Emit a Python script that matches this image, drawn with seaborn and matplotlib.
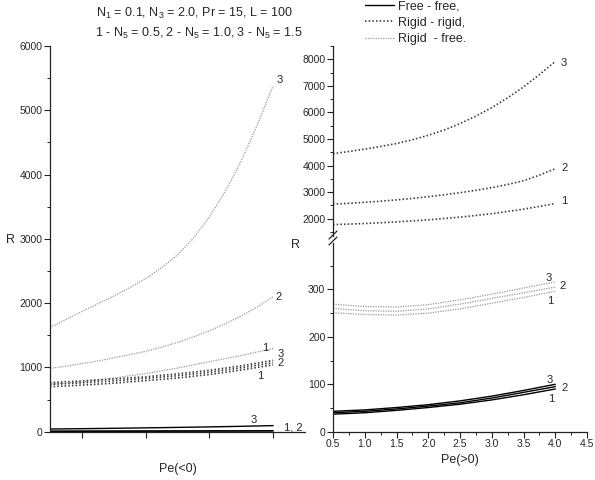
import pandas as pd
import seaborn as sns
import matplotlib
matplotlib.use("Agg")
import matplotlib.pyplot as plt
from matplotlib.lines import Line2D
from matplotlib.ticker import MultipleLocator

# valeurs (|Pe| = 0.5 ... 4.0)
pe = [0.5, 1.0, 1.5, 2.0, 2.5, 3.0, 3.5, 4.0]
pe_fin = [0.5, 0.75, 1.0, 1.25, 1.5, 1.75, 2.0, 2.25, 2.5, 2.75, 3.0, 3.25, 3.5, 3.75, 4.0]

# Pe < 0
neg_ff1 = [5, 6, 7, 8, 9, 10, 11, 12]
neg_ff2 = [8, 9, 10, 11, 12, 13, 14, 16]
neg_ff3 = [42, 47, 53, 60, 67, 75, 84, 95]
neg_rr1 = [700, 725, 755, 795, 835, 890, 960, 1040]
neg_rr2 = [735, 760, 790, 830, 870, 925, 995, 1075]
neg_rr3 = [765, 790, 820, 855, 900, 955, 1025, 1110]
neg_rf1 = [740, 775, 835, 905, 990, 1090, 1185, 1295]
neg_rf2 = [985, 1020, 1060, 1100, 1150, 1200, 1250, 1315, 1390, 1475, 1570, 1680, 1800, 1940, 2100]
neg_rf3 = [1620, 1745, 1870, 1990, 2110, 2240, 2380, 2550, 2750, 3010, 3340, 3740, 4210, 4770, 5380]

# Pe > 0
pos_ff1 = [37, 40, 45, 51, 58, 67, 78, 90]
pos_ff2 = [40, 43, 48, 54, 61, 71, 83, 95]
pos_ff3 = [43, 46, 51, 57, 65, 75, 87, 100]
pos_rf1 = [251, 247, 246, 250, 259, 271, 283, 296]
pos_rf2 = [260, 255, 254, 259, 269, 281, 293, 305]
pos_rf3 = [269, 264, 263, 268, 278, 290, 303, 316]
pos_rr1 = [1780, 1820, 1880, 1960, 2060, 2190, 2360, 2570]
pos_rr2 = [2550, 2580, 2620, 2660, 2710, 2765, 2830, 2900, 2980, 3070, 3170, 3290, 3430, 3640, 3880]
pos_rr3 = [4450, 4530, 4620, 4720, 4830, 4970, 5140, 5340, 5580, 5860, 6180, 6550, 6960, 7420, 7920]

sns.set_theme(style="ticks")
plt.rcParams["font.family"] = ["Liberation Sans", "DejaVu Sans"]
plt.rcParams["mathtext.fontset"] = "custom"
plt.rcParams["mathtext.rm"] = "Liberation Sans"

styles = {
    "ff": dict(color="black", linestyle="-", linewidth=1.0),
    "rr": dict(color="#3a3a3a", linestyle=(0, (0.9, 1.3)), linewidth=1.2),
    "rf": dict(color="#9a9a9a", linestyle=(0, (1, 1)), linewidth=0.9),
}

fig = plt.figure(figsize=(5.95, 4.8), dpi=100)
ax_l = fig.add_axes([0.084, 0.1006, 0.4286, 0.8035])
ax_lo = fig.add_axes([0.5597, 0.1006, 0.4269, 0.3932])
ax_up = fig.add_axes([0.5597, 0.5083, 0.4269, 0.3959])


def trace(ax, y, kind):
    x = pe_fin if len(y) == len(pe_fin) else pe
    df = pd.DataFrame({"Pe": x, "R": y})
    sns.lineplot(data=df, x="Pe", y="R", ax=ax, **styles[kind])


for y, k in [(neg_ff1, "ff"), (neg_ff2, "ff"), (neg_ff3, "ff"),
             (neg_rf1, "rf"), (neg_rf2, "rf"), (neg_rf3, "rf"),
             (neg_rr1, "rr"), (neg_rr2, "rr"), (neg_rr3, "rr")]:
    trace(ax_l, y, k)
for y, k in [(pos_ff1, "ff"), (pos_ff2, "ff"), (pos_ff3, "ff"),
             (pos_rf1, "rf"), (pos_rf2, "rf"), (pos_rf3, "rf")]:
    trace(ax_lo, y, k)
for y in [pos_rr1, pos_rr2, pos_rr3]:
    trace(ax_up, y, "rr")

for ax in [ax_l, ax_lo, ax_up]:
    ax.set_xlim(0.5, 4.5)
    ax.set_xlabel("")
    ax.set_ylabel("")
    for s in ["top", "right"]:
        ax.spines[s].set_visible(False)
    for s in ["left", "bottom"]:
        ax.spines[s].set_color("#222222")
        ax.spines[s].set_linewidth(0.9)
    ax.tick_params(which="major", length=4, width=0.8, labelsize=7.5, pad=1.5, color="#222222")
    ax.tick_params(which="minor", length=2, width=0.7, color="#222222")
    ax.patch.set_alpha(0)

# panneau gauche
ax_l.set_ylim(0, 6000)
ax_l.set_xticks([1, 2, 3, 4])
ax_l.set_xticklabels([])
ax_l.yaxis.set_major_locator(MultipleLocator(1000))
ax_l.yaxis.set_minor_locator(MultipleLocator(500))
ax_l.set_xlabel("Pe(<0)", fontsize=9, labelpad=17)

# panneau droit, bas
ax_lo.set_ylim(0, 398)
ax_lo.yaxis.set_major_locator(MultipleLocator(100))
ax_lo.yaxis.set_minor_locator(MultipleLocator(50))
ax_lo.xaxis.set_major_locator(MultipleLocator(0.5))
ax_lo.xaxis.set_minor_locator(MultipleLocator(0.25))
ax_lo.set_xticklabels([f"{v:.1f}" for v in ax_lo.get_xticks()])
ax_lo.set_xlabel("Pe(>0)", fontsize=9, labelpad=3)

# panneau droit, haut
ax_up.set_ylim(1350, 8500)
ax_up.yaxis.set_major_locator(MultipleLocator(1000))
ax_up.yaxis.set_minor_locator(MultipleLocator(500))
ax_up.spines["bottom"].set_visible(False)
ax_up.set_xticks([])

# coupure de l'axe
for yc in [235, 241]:
    fig.add_artist(Line2D([329 / 595, 337 / 595], [1 - (yc + 4) / 480, 1 - (yc - 4) / 480],
                          color="#222222", linewidth=0.9))

# numeros des courbes
fs = 8
for x, y, t in [(4.06, 5470, "3"), (4.04, 2090, "2"), (3.83, 1300, "1"),
                (4.07, 1215, "3"), (4.07, 1070, "2"), (3.75, 871, "1"),
                (3.64, 182, "3"), (4.17, 62, "1, 2")]:
    ax_l.text(x, y, t, fontsize=fs, va="center")
for x, y, t in [(4.09, 7850, "3"), (4.10, 3900, "2"), (4.09, 2650, "1")]:
    ax_up.text(x, y, t, fontsize=fs, va="center")
for x, y, t in [(3.84, 324, "3"), (4.06, 308, "2"), (3.87, 276, "1"),
                (3.87, 109, "3"), (4.09, 92, "2"), (3.88, 69, "1")]:
    ax_lo.text(x, y, t, fontsize=fs, va="center")

fig.text(6 / 595, 1 - 240 / 480, "R", fontsize=9, va="center")
fig.text(291 / 595, 1 - 245 / 480, "R", fontsize=9, va="center")

fig.text(195 / 595, 1 - 13 / 480,
         r"N$_1$ = 0.1, N$_3$ = 2.0, Pr = 15, L = 100", fontsize=9, ha="center", va="center")
fig.text(199 / 595, 1 - 33 / 480,
         r"1 - N$_5$ = 0.5, 2 - N$_5$ = 1.0, 3 - N$_5$ = 1.5", fontsize=9, ha="center", va="center")

handles = [Line2D([], [], **styles["ff"]), Line2D([], [], **styles["rr"]),
           Line2D([], [], **styles["rf"])]
fig.legend(handles, ["Free - free,", "Rigid - rigid,", "Rigid  - free."],
           loc="upper left", bbox_to_anchor=(360 / 595, 1.01), frameon=False,
           fontsize=9, handlelength=2.3, handletextpad=0.3, labelspacing=0.35,
           borderaxespad=0)

fig.savefig("out.png", dpi=100)
